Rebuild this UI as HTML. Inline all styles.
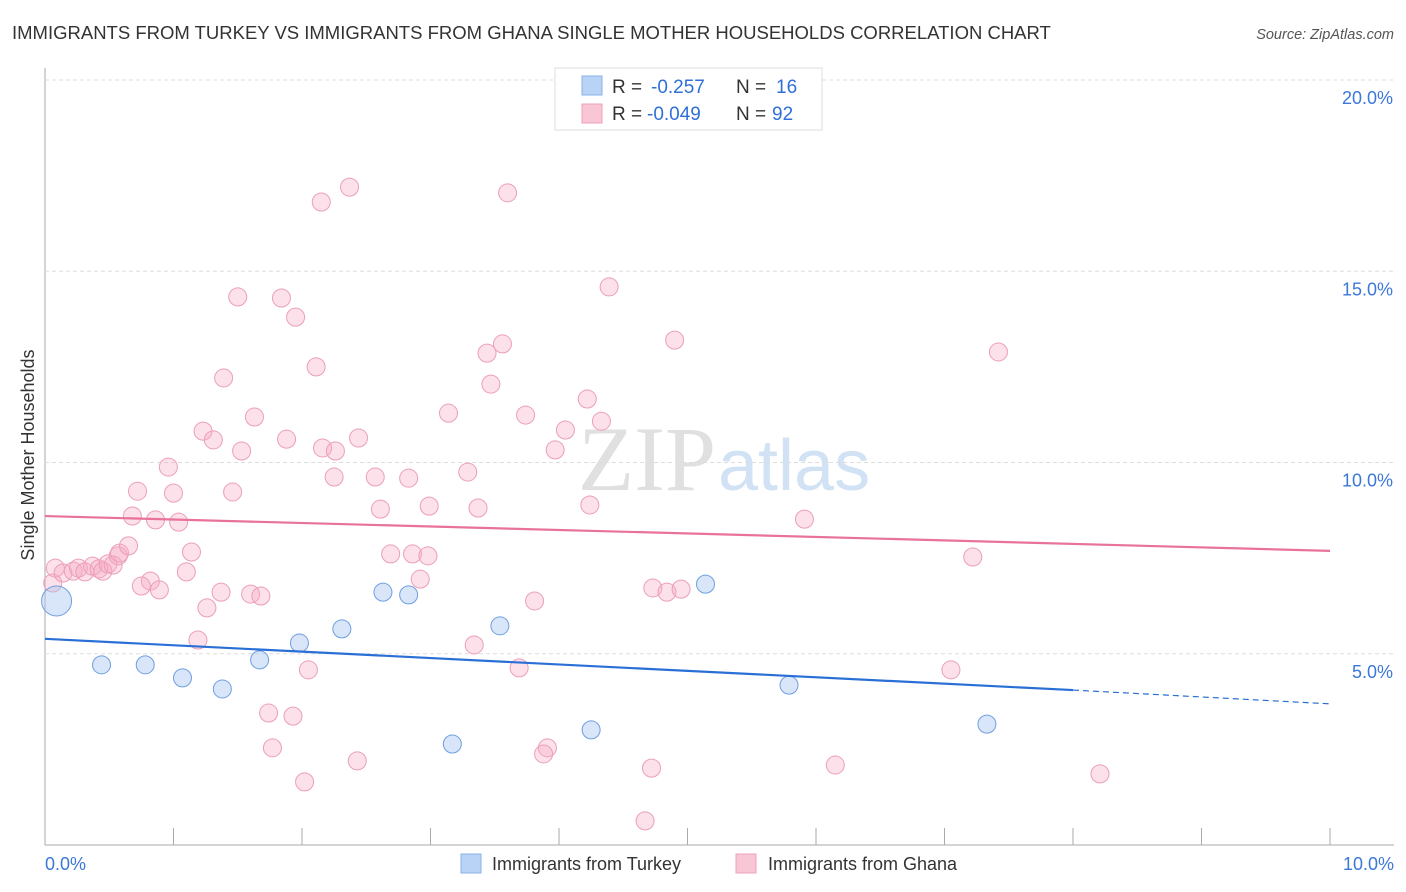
<!DOCTYPE html>
<html><head><meta charset="utf-8"><style>
body{margin:0;background:#fff;font-family:"Liberation Sans",sans-serif;}
svg{display:block}
</style></head><body>
<svg id="c" width="1406" height="892">
<text x="12" y="39" font-size="18.5" fill="#333">IMMIGRANTS FROM TURKEY VS IMMIGRANTS FROM GHANA SINGLE MOTHER HOUSEHOLDS CORRELATION CHART</text>
<text x="1394" y="39" font-size="14.5" fill="#555" font-style="italic" text-anchor="end">Source: ZipAtlas.com</text>
<text x="716" y="490" font-size="92" fill="#e0e0e0" text-anchor="end" font-family="Liberation Serif">ZIP</text>
<text x="718" y="490" font-size="72" fill="#d2e2f5">atlas</text>
<text transform="translate(34,455) rotate(-90)" font-size="18" fill="#333" text-anchor="middle">Single Mother Households</text>
<g id="grid"></g><g id="pts"></g><g id="lines"></g>
<g>
<rect x="555" y="68" width="267" height="62" fill="#fff" stroke="#ddd"/>
<rect x="582" y="76" width="20" height="19" fill="#b8d3f5" stroke="#8ab2e6"/>
<rect x="582" y="104" width="20" height="19" fill="#f8c6d5" stroke="#eea3ba"/>
<text x="612" y="93" font-size="19" fill="#333">R =</text>
<text x="651" y="93" font-size="19" fill="#2f6fd6">-0.257</text>
<text x="736" y="93" font-size="19" fill="#333">N =</text>
<text x="776" y="93" font-size="19" fill="#2f6fd6">16</text>
<text x="612" y="120" font-size="19" fill="#333">R =</text>
<text x="647" y="120" font-size="19" fill="#2f6fd6">-0.049</text>
<text x="736" y="120" font-size="19" fill="#333">N =</text>
<text x="772" y="120" font-size="19" fill="#2f6fd6">92</text>
</g>
<g>
<rect x="461" y="854" width="20" height="19" fill="#b8d3f5" stroke="#8ab2e6"/>
<text x="492" y="870" font-size="18" fill="#333">Immigrants from Turkey</text>
<rect x="736" y="854" width="20" height="19" fill="#f8c6d5" stroke="#eea3ba"/>
<text x="768" y="870" font-size="18" fill="#333">Immigrants from Ghana</text>
</g>
</svg>
<script>
const yTicks=[5,10,15,20];
const xTickLabels=["0.0%","10.0%"];
const turkeyX=[0.09,0.44,0.78,1.07,1.38,1.67,1.98,2.31,2.63,2.83,3.17,3.54,4.25,5.14,5.79,7.33];
const turkeyY=[6.38,4.71,4.71,4.37,4.08,4.84,5.28,5.65,6.61,6.54,2.64,5.73,3.01,6.82,4.18,3.16];
const turkeyR=[15,9,9,9,9,9,9,9,9,9,9,9,9,9,9,9];
const ghanaX=[2.15,2.37,3.60,1.50,1.84,1.95,4.39,2.11,3.44,3.56,4.90,7.42,1.39,3.47,1.63,3.14,3.74,4.22,4.33,4.05,1.23,1.31,1.88,1.53,2.16,2.26,2.44,3.97,0.96,2.25,2.57,2.83,3.29,0.72,1.00,1.46,2.61,2.99,3.37,4.24,5.91,0.68,0.86,1.04,1.14,2.69,2.86,2.98,7.22,1.10,2.92,0.82,0.75,0.89,1.37,1.60,1.68,1.26,3.81,4.73,4.84,4.95,1.19,3.34,2.05,3.69,7.05,1.74,1.93,1.77,3.91,3.88,2.43,4.72,6.15,8.21,2.02,4.67,0.06,0.08,0.14,0.22,0.26,0.31,0.37,0.42,0.45,0.49,0.53,0.57,0.58,0.65];
const ghanaY=[16.81,17.20,17.05,14.33,14.30,13.80,14.59,12.50,12.86,13.10,13.20,12.89,12.21,12.05,11.19,11.29,11.24,11.66,11.08,10.85,10.82,10.59,10.61,10.30,10.38,10.30,10.64,10.33,9.88,9.62,9.62,9.59,9.75,9.25,9.20,9.23,8.78,8.86,8.81,8.89,8.52,8.60,8.50,8.44,7.66,7.61,7.61,7.56,7.53,7.14,6.95,6.90,6.77,6.67,6.61,6.56,6.51,6.20,6.38,6.72,6.61,6.69,5.36,5.23,4.58,4.63,4.58,3.45,3.37,2.54,2.54,2.38,2.20,2.01,2.09,1.86,1.65,0.63,6.85,7.24,7.11,7.16,7.24,7.14,7.29,7.22,7.16,7.35,7.32,7.56,7.63,7.82];
const turkeyTrend=[5.39,4.05,3.69];
const ghanaTrend=[8.60,7.69];
const NS='http://www.w3.org/2000/svg';
const X=v=>45+v*128.5, Y=v=>845-v*38.25;
function mk(tag,attrs,parent){const e=document.createElementNS(NS,tag);for(const k in attrs)e.setAttribute(k,attrs[k]);parent.appendChild(e);return e;}
const grid=document.getElementById('grid'),pts=document.getElementById('pts'),lines=document.getElementById('lines');
let ax=mk('line',{x1:45,y1:68,x2:45,y2:845,stroke:'#aaa'},grid);


let bx=mk('line',{x1:45,y1:845,x2:1394,y2:845,stroke:'#aaa'},grid);


for(let i=0;i<=10;i++){let t=mk('line',{x1:X(i),y1:828,x2:X(i),y2:845,stroke:'#aaa'},grid);

}
yTicks.forEach(v=>{let g=mk('line',{x1:45,y1:Y(v),x2:1394,y2:Y(v),stroke:'#ddd','stroke-dasharray':'4,3'},grid);


let t=mk('text',{x:1393,y:Y(v)+24,'font-size':18,fill:'#3b78d8','text-anchor':'end'},grid);t.textContent=v.toFixed(1)+'%';

});
[[0,'start',45],[10,'end',1394]].forEach((a,i)=>{let t=mk('text',{x:a[2],y:870,'font-size':18,fill:'#3b78d8','text-anchor':a[1]},grid);t.textContent=xTickLabels[i];

});
ghanaX.forEach((x,i)=>{let c=mk('circle',{cx:X(x),cy:Y(ghanaY[i]),r:9,fill:'rgba(246,170,195,0.35)',stroke:'#eb9fb8','stroke-width':1},pts);

});
turkeyX.forEach((x,i)=>{let c=mk('circle',{cx:X(x),cy:Y(turkeyY[i]),r:turkeyR[i],fill:'rgba(170,198,240,0.45)',stroke:'#6f9fe0','stroke-width':1},pts);

});
let l1=mk('line',{x1:X(0),y1:Y(ghanaTrend[0]),x2:X(10),y2:Y(ghanaTrend[1]),stroke:'#e8729a','stroke-width':2.2},lines);


let l2=mk('line',{x1:X(0),y1:Y(turkeyTrend[0]),x2:X(8),y2:Y(turkeyTrend[1]),stroke:'#2a6fd6','stroke-width':2.2},lines);


let l3=mk('line',{x1:X(8),y1:Y(turkeyTrend[1]),x2:X(10),y2:Y(turkeyTrend[2]),stroke:'#2a6fd6','stroke-width':1.2,'stroke-dasharray':'6,4'},lines);


</script>
</body></html>
